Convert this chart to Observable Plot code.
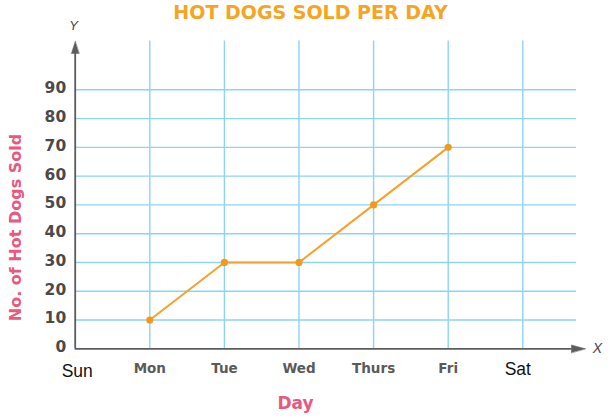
<!DOCTYPE html>
<html>
<head>
<meta charset="utf-8">
<script src="https://cdn.jsdelivr.net/npm/d3@7"></script>
<script src="https://cdn.jsdelivr.net/npm/@observablehq/plot@0.6"></script>
<style>
  html, body { margin: 0; padding: 0; background: #fff; }
  g[aria-label="chart-title"] text { letter-spacing: 2px; }
  g[aria-label="y-title"] text { letter-spacing: 3.4px; }
  g[aria-label="x-title"] text { letter-spacing: 1px; }
  g[aria-label="day-ticks"] text { letter-spacing: 3px; }
  g[aria-label="y-ticks"] text { letter-spacing: 0.6px; }
</style>
</head>
<body>
<div id="chart"></div>
<script>
// ---- data ----
const days = ["Sun", "Mon", "Tue", "Wed", "Thurs", "Fri", "Sat"];
const lineDays = ["Mon", "Tue", "Wed", "Thurs", "Fri"];
const sold = [10, 30, 30, 50, 70];
const yTicks = [0, 10, 20, 30, 40, 50, 60, 70, 80, 90];
const gridDays = ["Mon", "Tue", "Wed", "Thurs", "Fri", "Sat"];
const styledDays = ["Mon", "Tue", "Wed", "Thurs", "Fri"];
const titleText = "HOT DOGS SOLD PER DAY";
const yTitle = "No. of Hot Dogs Sold";
const xTitle = "Day";

const dayIndex = d => days.indexOf(d);
const points = lineDays.map((d, i) => ({day: d, value: sold[i]}));

const gridColor = "#8bd5f4";
const axisColor = "#5c5c5c";
const orange = "#f5a12a";
const pink = "#e8587f";

const arrowHead = {
  draw(context, l) {
    context.moveTo(0, -l);
    context.lineTo(-3.8, 0);
    context.lineTo(3.8, 0);
    context.closePath();
  }
};

const chart = Plot.plot({
  width: 613,
  height: 418,
  marginTop: 0, marginRight: 0, marginBottom: 0, marginLeft: 0,
  x: {type: "linear", domain: [0, 6], range: [74.7, 522.3], axis: null},
  y: {type: "linear", domain: [0, 90], range: [348.3, 89.3], axis: null},
  style: {background: "#fff", overflow: "visible"},
  marks: [
    // grid
    Plot.ruleX(gridDays, {x: dayIndex, y1: 0, y2: 107, stroke: gridColor, strokeWidth: 1.4}),
    Plot.ruleY(yTicks.filter(v => v > 0), {x1: 0, x2: 6.72, stroke: gridColor, strokeWidth: 1.4}),
    // axes
    Plot.ruleX([0], {y1: 0, y2: 103, stroke: axisColor, strokeWidth: 1.8}),
    Plot.ruleY([0], {x1: 0, x2: 6.66, stroke: axisColor, strokeWidth: 1.8}),
    Plot.vector([0], {x: 0, y: 106.8, rotate: 0, length: 12, anchor: "end", shape: arrowHead, fill: axisColor, stroke: axisColor, strokeWidth: 0.5}),
    Plot.vector([0], {x: 6.84, y: 0, rotate: 90, length: 14, anchor: "end", shape: arrowHead, fill: axisColor, stroke: axisColor, strokeWidth: 0.5}),
    Plot.text(["Y"], {x: 0, y: 106.8, dx: -1.5, dy: -16, fontFamily: "Liberation Sans", fontStyle: "italic", fontSize: 13, fill: "#444"}),
    Plot.text(["X"], {x: 6.84, y: 0, dx: 12, dy: 0, fontFamily: "Liberation Sans", fontStyle: "italic", fontSize: 14, fill: "#444"}),
    // tick labels
    Plot.text(yTicks, {ariaLabel: "y-ticks", x: 0, y: d => d, dx: -9, dy: -1.5, textAnchor: "end", fontFamily: "DejaVu Sans", fontWeight: "bold", fontSize: 15.5, fill: "#4a4a4a"}),
    Plot.text(styledDays, {ariaLabel: "day-ticks", x: dayIndex, y: 0, dx: 0, dy: 20, fontFamily: "DejaVu Sans", fontWeight: "bold", fontSize: 13.5, fill: "#5a5a5a"}),
    Plot.text(["Sun"], {x: dayIndex, y: 0, dx: 2, dy: 23, fontFamily: "Liberation Sans", fontSize: 17.5, fill: "#111"}),
    Plot.text(["Sat"], {x: dayIndex, y: 0, dx: -5, dy: 21, fontFamily: "Liberation Sans", fontSize: 17.5, fill: "#111"}),
    // data line
    Plot.line(points, {x: d => dayIndex(d.day), y: "value", stroke: orange, strokeWidth: 2}),
    Plot.dot(points, {x: d => dayIndex(d.day), y: "value", r: 3.6, fill: "#f39a1b", stroke: "none"}),
    // titles
    Plot.text([titleText], {ariaLabel: "chart-title", frameAnchor: "top-left", dx: 310, dy: 18, textAnchor: "middle", lineAnchor: "bottom", fontFamily: "DejaVu Sans", fontWeight: "bold", fontSize: 19, fill: "#f6a424"}),
    Plot.text([yTitle], {ariaLabel: "y-title", frameAnchor: "top-left", dx: 15, dy: 227, rotate: -90, textAnchor: "middle", lineAnchor: "middle", fontFamily: "DejaVu Sans", fontWeight: "bold", fontSize: 16, fill: pink}),
    Plot.text([xTitle], {ariaLabel: "x-title", frameAnchor: "top-left", dx: 295, dy: 403, textAnchor: "middle", lineAnchor: "middle", fontFamily: "DejaVu Sans", fontWeight: "bold", fontSize: 17, fill: pink})
  ]
});
document.getElementById("chart").append(chart);
</script>
</body>
</html>
